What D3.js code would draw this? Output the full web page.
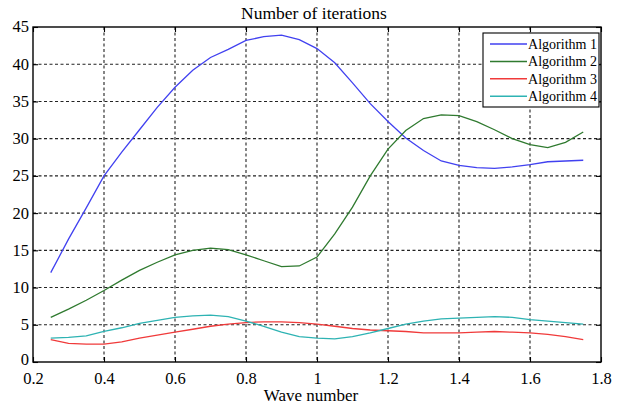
<!DOCTYPE html>
<html><head><meta charset="utf-8">
<script src="https://cdn.jsdelivr.net/npm/d3@7"></script>
<style>body{margin:0;background:#fff}svg{display:block}text{font-family:"Liberation Serif","Times New Roman",serif;fill:#000}</style>
</head><body><svg id="c" width="622" height="406"></svg>
<script>
const waveNumbers = [0.25,0.30,0.35,0.40,0.45,0.50,0.55,0.60,0.65,0.70,0.75,0.80,0.85,0.90,0.95,1.00,1.05,1.10,1.15,1.20,1.25,1.30,1.35,1.40,1.45,1.50,1.55,1.60,1.65,1.70,1.75];
const algorithm1 = [12,16.5,20.7,25,28.2,31.2,34.2,36.9,39.2,40.9,42.0,43.2,43.7,43.9,43.3,42.1,40.2,37.5,34.7,32.3,30.1,28.4,27.0,26.4,26.1,26.0,26.2,26.5,26.9,27.0,27.1];
const algorithm2 = [6.0,7.1,8.3,9.6,11.0,12.3,13.4,14.4,15.0,15.3,15.1,14.4,13.6,12.8,12.9,14.1,17.2,20.8,25.0,28.6,31.1,32.7,33.2,33.1,32.3,31.2,30.0,29.2,28.8,29.5,30.9];
const algorithm3 = [3.0,2.5,2.4,2.4,2.7,3.2,3.6,4.0,4.4,4.8,5.1,5.3,5.4,5.4,5.3,5.1,4.8,4.5,4.3,4.2,4.1,3.9,3.9,3.9,4.0,4.1,4.0,3.9,3.7,3.4,3.0];
const algorithm4 = [3.2,3.3,3.5,4.1,4.6,5.2,5.6,6.0,6.2,6.3,6.1,5.5,4.8,4.0,3.4,3.2,3.1,3.4,3.9,4.5,5.1,5.5,5.8,5.9,6.0,6.1,6.0,5.7,5.5,5.3,5.1];
const seriesNames = ["Algorithm 1","Algorithm 2","Algorithm 3","Algorithm 4"];
const seriesColors = ["#4141f0","#2f7a2f","#f03a3a","#2eb3b3"];
const xTicks = [0.2,0.4,0.6,0.8,1.0,1.2,1.4,1.6,1.8];
const yTicks = [0,5,10,15,20,25,30,35,40,45];
const title = "Number of iterations";
const xLabel = "Wave number";

const svg = d3.select("#c");
const L=33,R=601,T=27,B=362;
const x = d3.scaleLinear().domain([0.2,1.8]).range([L,R]);
const y = d3.scaleLinear().domain([0,45]).range([B,T]);

// grid
const g = svg.append("g");
g.selectAll("line.vx").data(xTicks.slice(1,-1)).join("line")
 .attr("x1",d=>x(d)).attr("x2",d=>x(d)).attr("y1",T).attr("y2",B)
 .attr("stroke","#222").attr("stroke-width",1.1).attr("stroke-dasharray","3,2.5");
g.selectAll("line.hy").data(yTicks.slice(1,-1)).join("line")
 .attr("y1",d=>y(d)).attr("y2",d=>y(d)).attr("x1",L).attr("x2",R)
 .attr("stroke","#222").attr("stroke-width",1.1).attr("stroke-dasharray","3,2.5");

// axes
const xa = svg.append("g").attr("transform",`translate(0,${B})`)
 .call(d3.axisBottom(x).tickValues(xTicks).tickSize(-5).tickPadding(10).tickFormat(d=>d3.format("")(+d.toFixed(1))));
const xt = svg.append("g").attr("transform",`translate(0,${T})`)
 .call(d3.axisTop(x).tickValues(xTicks).tickSize(-5).tickFormat(""));
const ya = svg.append("g").attr("transform",`translate(${L},0)`)
 .call(d3.axisLeft(y).tickValues(yTicks).tickSize(-5).tickPadding(5));
const yr = svg.append("g").attr("transform",`translate(${R},0)`)
 .call(d3.axisRight(y).tickValues(yTicks).tickSize(-5).tickFormat(""));
[xa,xt,ya,yr].forEach(a=>{a.select(".domain").remove();a.selectAll("line").attr("stroke","#000").attr("stroke-width",1.1);});
xa.selectAll("text").style("font-family","Liberation Serif").style("font-size","16.5px").attr("dy","0.71em").attr("y",10);
ya.selectAll("text").style("font-family","Liberation Serif").style("font-size","16.5px").attr("x",-4).attr("dy","0.3em");
ya.selectAll(".tick").filter(d=>d===0).select("text").attr("dy","0.15em");
svg.append("rect").attr("x",L).attr("y",T).attr("width",R-L).attr("height",B-T)
 .attr("fill","none").attr("stroke","#000").attr("stroke-width",1.4);

// lines
const all=[algorithm1,algorithm2,algorithm3,algorithm4];
const line=d3.line().x((d,i)=>x(waveNumbers[i])).y(d=>y(d));
all.forEach((s,k)=>svg.append("path").datum(s).attr("d",line).attr("fill","none")
 .attr("stroke",seriesColors[k]).attr("stroke-width",1.3));

// title & label
svg.append("text").attr("x",(L+R)/2-3).attr("y",19).attr("text-anchor","middle").style("font-size","17.5px").text(title);
svg.append("text").attr("x",(L+R)/2-6).attr("y",401).attr("text-anchor","middle").style("font-size","17px").text(xLabel);

// legend
const lg=svg.append("g");
lg.append("rect").attr("x",483).attr("y",33).attr("width",116).attr("height",74)
 .attr("fill","#fff").attr("stroke","#000").attr("stroke-width",1.1);
seriesNames.forEach((n,k)=>{
 const yy=44+k*17.4;
 lg.append("line").attr("x1",490).attr("x2",527).attr("y1",yy).attr("y2",yy).attr("stroke",seriesColors[k]).attr("stroke-width",1.5);
 lg.append("text").attr("x",528).attr("y",yy+5).attr("textLength",69).attr("lengthAdjust","spacingAndGlyphs").style("font-size","14.5px").text(n);
});
</script></body></html>
